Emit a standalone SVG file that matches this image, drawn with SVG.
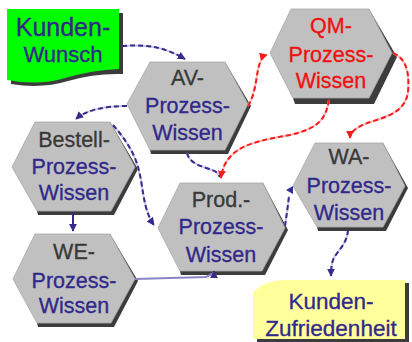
<svg xmlns="http://www.w3.org/2000/svg" width="412" height="342" viewBox="0 0 412 342">
<defs>
<style>
.hex{fill:#c0c0c0;stroke:#a8a8a8;stroke-width:0.8}
.sh{fill:#3c3c3c}
.t{font-family:"Liberation Sans",Arial,sans-serif;font-size:21.5px;text-anchor:middle;stroke-width:0.3}
.g{fill:#383838;stroke:#383838}
.b{fill:#30288a;stroke:#30288a}
.r{fill:#f01010;stroke:#f01010}
.nu{fill:none;stroke:#cbc7e8;stroke-width:2}
.nd{fill:none;stroke:#342c8c;stroke-width:2;stroke-dasharray:5 3}
.ru{fill:none;stroke:#ffbcbc;stroke-width:2}
.rd{fill:none;stroke:#f51c1c;stroke-width:2;stroke-dasharray:5 3}
</style>
<marker id="an" viewBox="0 0 10 10" refX="9" refY="5" markerWidth="4" markerHeight="4" orient="auto" markerUnits="strokeWidth"><path d="M0,0 L10,5 L0,10 Z" fill="#342c8c"/></marker>
<marker id="ar" viewBox="0 0 10 10" refX="9" refY="5" markerWidth="4" markerHeight="4" orient="auto" markerUnits="strokeWidth"><path d="M0,0 L10,5 L0,10 Z" fill="#f51c1c"/></marker>
</defs>
<rect width="412" height="342" fill="#ffffff"/>

<g id="kundenwunsch">
<path class="sh" d="M11,13 H123 V74 Q95,73 68,81 Q42,89 11,84 Z"/>
<path d="M7,9 H119 V69 Q92,70 65,78 Q40,86 7,80 Z" fill="#00ff00"/>
<text class="t b" x="63" y="36" style="font-size:25px">Kunden-</text>
<text class="t b" x="63" y="62" style="font-size:22px">Wunsch</text>
</g>

<g id="zufriedenheit">
<path class="sh" d="M257,295 Q268,284 286,283 H409 V342 H257 Z"/>
<path d="M253,292 Q264,281 282,280 H405 V339 H253 Z" fill="#ffff9c"/>
<text class="t b" x="331" y="309" style="font-size:22.5px">Kunden-</text>
<text class="t b" x="331" y="336" style="font-size:22.5px">Zufriedenheit</text>
</g>

<g id="av">
<polygon class="sh" points="225,62 251,106 228,154 151,154 150,150 187,104"/>
<polygon class="hex" points="150,62 225,62 248,104 225,150 150,150 127,104"/>
<text class="t g" x="187.5" y="85">AV-</text>
<text class="t b" x="187.5" y="113">Prozess-</text>
<text class="t b" x="187.5" y="140">Wissen</text>
</g>

<g id="qm">
<polygon class="sh" points="369,9 397,57 374,104 295,104 293,98 331,53"/>
<polygon class="hex" points="291,9 369,9 392,53 369,98 293,98 270,53"/>
<text class="t r" x="331" y="33">QM-</text>
<text class="t r" x="331" y="62">Prozess-</text>
<text class="t r" x="331" y="88">Wissen</text>
</g>

<g id="bestell">
<polygon class="sh" points="110,122 138,169 114,215 38,215 37,211 74,167"/>
<polygon class="hex" points="35,122 110,122 135,167 111,211 37,211 12,167"/>
<text class="t g" x="74" y="147">Bestell-</text>
<text class="t b" x="74" y="174">Prozess-</text>
<text class="t b" x="74" y="200">Wissen</text>
</g>

<g id="we">
<polygon class="sh" points="110,234 138,281 114,327 38,327 37,323 74,279"/>
<polygon class="hex" points="35,234 110,234 135,279 111,323 37,323 13,279"/>
<text class="t g" x="74" y="259">WE-</text>
<text class="t b" x="74" y="288">Prozess-</text>
<text class="t b" x="74" y="313">Wissen</text>
</g>

<g id="prod">
<polygon class="sh" points="263,183 288,230 265,275 181,275 180,271 221,228"/>
<polygon class="hex" points="180,183 263,183 285,228 262,271 180,271 158,228"/>
<text class="t g" x="221" y="207">Prod.-</text>
<text class="t b" x="221" y="234">Prozess-</text>
<text class="t b" x="221" y="262">Wissen</text>
</g>

<g id="wa">
<polygon class="sh" points="383,143 408,188 386,231 318,231 317,227 349,186"/>
<polygon class="hex" points="315,143 383,143 405,186 383,227 317,227 293,186"/>
<text class="t g" x="349" y="164">WA-</text>
<text class="t b" x="349" y="193">Prozess-</text>
<text class="t b" x="349" y="220">Wissen</text>
</g>

<g id="connectors">
<path class="nu" d="M122,46 C150,44 166,48 185,59"/>
<path class="nd" d="M122,46 C150,44 166,48 185,59" marker-end="url(#an)"/>
<path class="nu" d="M127,106 C105,106 86,110 76,119"/>
<path class="nd" d="M127,106 C105,106 86,110 76,119" marker-end="url(#an)"/>
<path class="nu" d="M113,125 C135,150 138,165 141,180 C144,200 146,214 154,225"/>
<path class="nd" d="M113,125 C135,150 138,165 141,180 C144,200 146,214 154,225" marker-end="url(#an)"/>
<path d="M73,213 V231" fill="none" stroke="#342c8c" stroke-width="2" marker-end="url(#an)"/>
<path d="M135,279 L206,277 L214,273" fill="none" stroke="#8a84c2" stroke-width="2"/>
<path d="M214,277 V271" fill="none" stroke="#342c8c" stroke-width="2" marker-end="url(#an)"/>
<path class="nu" d="M187,153 C190,165 205,167 212,170 C218,172 219,175 220,177"/>
<path class="nd" d="M187,153 C190,165 205,167 212,170 C218,172 219,175 220,177"/>
<path class="ru" d="M329,100 C326,118 320,128 290,135 C260,140 240,145 230,157 C224,164 222,170 221,178"/>
<path class="rd" d="M329,100 C326,118 320,128 290,135 C260,140 240,145 230,157 C224,164 222,170 221,178" marker-end="url(#ar)"/>
<path class="ru" d="M248,106 C255,95 256,80 258,70 C260,60 263,56 267,55"/>
<path class="rd" d="M248,106 C255,95 256,80 258,70 C260,60 263,56 267,55" marker-end="url(#ar)"/>
<path class="ru" d="M393,53 C405,58 410,70 408,92 C405,115 380,118 365,124 C355,128 350,133 350,138"/>
<path class="rd" d="M393,53 C405,58 410,70 408,92 C405,115 380,118 365,124 C355,128 350,133 350,138" marker-end="url(#ar)"/>
<path class="nu" d="M285,226 L288,205 L289,196"/>
<path class="nd" d="M285,226 L288,205 L289,196"/>
<polygon points="286,190 293,186 293,194" fill="#342c8c"/>
<path class="nu" d="M348,230 C347,245 336,252 333,260 C331,266 331,272 331,276"/>
<path class="nd" d="M348,230 C347,245 336,252 333,260 C331,266 331,272 331,276" marker-end="url(#an)"/>
</g>
</svg>
